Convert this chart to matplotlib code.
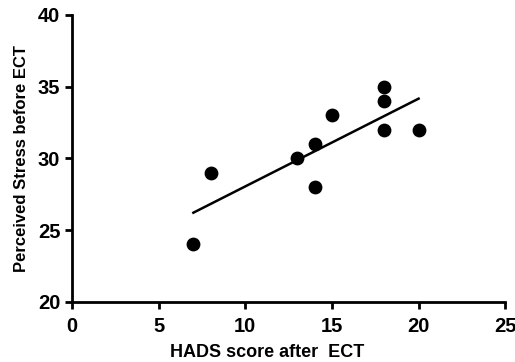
import numpy as np
import matplotlib
matplotlib.use("Agg")
from matplotlib import pyplot as plt

plt.rcParams['font.family'] = ['Liberation Sans', 'DejaVu Sans']
plt.rcParams['font.weight'] = 'bold'

hads = [7, 8, 13, 14, 14, 15, 18, 18, 18, 20]
stress = [24, 29, 30, 31, 28, 33, 35, 34, 32, 32]

# linear fit drawn over the range of the data
m, b = np.polyfit(hads, stress, 1)
xfit = np.array([min(hads), max(hads)])

fig = plt.figure(figsize=(5.15, 3.62), dpi=100)
ax = fig.add_axes([0.140, 0.166, 0.841, 0.793])

ax.scatter(hads, stress, s=80, color='black', zorder=3)
ax.plot(xfit, m * xfit + b, color='black', lw=1.8)

ax.set_xlim(0, 25)
ax.set_ylim(20, 40)
ax.set_xticks([0, 5, 10, 15, 20, 25])
ax.set_yticks([20, 25, 30, 35, 40])

for s in ['top', 'right']:
    ax.spines[s].set_visible(False)
for s in ['left', 'bottom']:
    ax.spines[s].set_linewidth(2)
    ax.spines[s].set_clip_on(False)

ax.tick_params(width=2, length=5, direction='out', labelsize=14.5)
ax.tick_params(axis='x', pad=6)
for lab in ax.get_xticklabels() + ax.get_yticklabels():
    lab.set_fontweight('bold')

ax.set_xlabel('HADS score after  ECT', fontsize=13, fontweight='bold')
ax.xaxis.set_label_coords(0.45, -0.145)
ax.set_ylabel('Perceived Stress before ECT', fontsize=12, fontweight='bold', labelpad=6)

fig.savefig('out.png', dpi=100)
